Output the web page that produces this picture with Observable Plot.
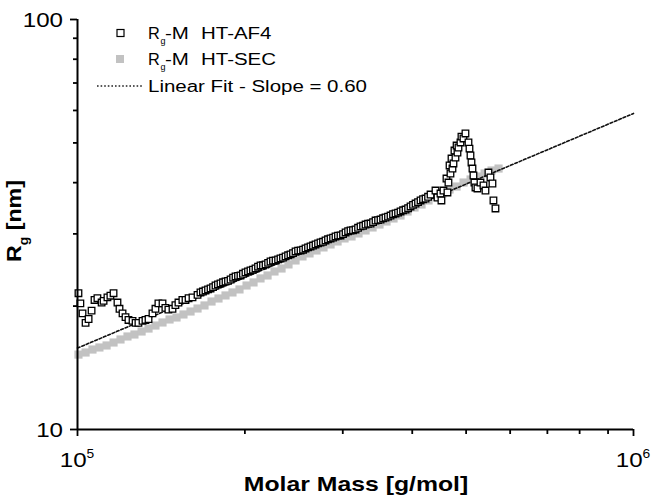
<!DOCTYPE html>
<html><head><meta charset="utf-8">
<script src="https://cdn.jsdelivr.net/npm/d3@7"></script>
<script src="https://cdn.jsdelivr.net/npm/@observablehq/plot@0.6"></script>
<style>
html,body{margin:0;padding:0;background:#fff;}
#chart svg{display:block;}
</style></head><body><div id="chart"></div>
<script>
// ---- data (M in g/mol, Rg in nm) ----
const af4M = [100400,101200,102100,103400,104700,106000,107300,108600,110500,111400,113200,114600,116100,118000,119000,120500,122000,123500,125600,127200,128700,130900,132500,134200,136400,138100,139800,142200,143900,145700,148200,150000,151900,154400,156400,158400,161000,164400,
166400,169900,173500,177100,180800,184600,188500,192400,196400,200500,204700,209000,213400,217900,222400,227100,231800,236700,241600,246700,251900,257100,262500,268000,273600,279300,285200,291100,297200,303500,309800,316300,322900,329700,336600,343600,350800,358100,365600,373300,381100,389100,397200,405500,414000,422700,431500,
440400,444100,449600,451400,455200,460900,462800,464700,466800,468600,470600,472500,474500,476400,478400,480600,482400,484400,488400,490400,494500,498600,504900,507000,509100,511200,513300,515400,517500,519700,524000,530600,537200,541700,548400,553000,557600,559900,564600];
const af4Rg = [21.5,20.3,19.2,18.2,18.6,19.5,20.7,20.9,20.4,20.6,21.0,21.2,21.5,20.4,19.7,19.2,18.8,18.5,18.4,18.2,18.2,18.4,18.5,18.6,19.2,19.7,20.3,20.3,19.8,19.6,19.7,20.1,20.4,20.7,20.7,20.9,21.0,21.3,
21.59,21.83,22.08,22.45,22.71,22.96,23.22,23.62,23.75,24.16,24.43,24.70,25.12,25.27,25.69,25.84,26.13,26.43,26.73,27.18,27.33,27.64,27.95,28.27,28.59,28.91,29.24,29.57,29.73,30.24,30.58,30.75,31.28,31.62,31.80,32.34,32.52,32.89,33.26,33.64,34.02,34.40,34.99,35.58,36.19,36.59,37.42,
38.27,36.80,37.63,36.19,38.27,40.94,37.85,40.03,44.05,42.11,45.81,43.30,44.55,47.91,46.07,49.28,47.35,48.73,50.12,51.82,51.26,52.72,50.12,48.43,46.59,44.80,43.30,41.64,40.03,38.93,38.71,40.03,39.37,38.27,42.34,41.18,39.81,36.19,34.60];
// further AF4 points read between the above along the dense straight stretch
const af4M2 = [168100,171700,175300,178900,182700,186500,190500,194400,198400,202600,206800,211200,215600,220200,224700,229500,234200,239200,244100,249300,254500,259800,265200,270800,276400,282200,288200,294100,300300,306700,313000,319600,326300,333100,340100,347200,354500,361800,369400,377200,385100,393200,401300,409700,418300,427100];
const af4Rg2 = [21.70,21.97,22.25,22.60,22.86,23.05,23.45,23.70,23.98,24.30,24.55,24.95,25.15,25.50,25.80,26.00,26.25,26.60,26.92,27.30,27.45,27.82,28.10,28.45,28.70,29.10,29.38,29.70,29.95,30.45,30.62,31.05,31.40,31.75,32.05,32.40,32.75,33.05,33.50,33.80,34.25,34.65,35.30,35.85,36.45,36.95];

const secM = [100400,103400,106400,109500,112800,116100,119500,123000,126600,130400,134200,138100,142200,146400,150700,155100,159700,164400,169200,174200,179300,184600,190000,195600,201400,207300,213400,219700,226100,232800,239600,246700,253900,261400,269100,277000,285200,293600,302200,311100,320200,329700,339400,349300,359600,370200,381100,392300,403800,415700,427900,440500,453500,466800,480600,494700,509300,524200,539700,555500,571900];
const secRg = [15.23,15.41,15.67,15.85,16.03,16.30,16.58,16.86,17.05,17.34,17.63,17.93,18.24,18.55,18.76,19.08,19.40,19.73,20.07,20.52,20.87,21.23,21.59,21.96,22.45,22.84,23.36,23.75,24.29,24.70,25.27,25.84,26.43,26.88,27.33,27.80,28.27,28.75,29.24,29.57,30.07,30.58,31.10,31.62,32.16,32.71,33.26,34.02,34.79,35.38,36.19,37.01,37.63,38.49,39.14,40.03,40.72,41.40,42.11,42.83,43.30];

const fitM = [100000, 1000000];
const fitRg = [15.8, 59.0];

const xMajor = [1e5, 1e6];
const xMinor = [2e5, 3e5, 4e5, 5e5, 6e5, 7e5, 8e5, 9e5];
const yMajor = [10, 100];
const yMinor = [20, 30, 40, 50, 60, 70, 80, 90];

const xTitle = "Molar Mass [g/mol]";
const yTitleMain = "R", yTitleSub = "g", yTitleRest = " [nm]";
const legendSeries = ["HT-AF4", "HT-SEC"];
const legendFit = "Linear Fit - Slope = 0.60";

// ---- tables ----
const af4 = af4M.concat(af4M2).map((m, i) => ({M: m, Rg: af4Rg.concat(af4Rg2)[i]}))
  .sort((a, b) => a.M - b.M);
const sec = secM.map((m, i) => ({M: m, Rg: secRg[i]}));
const fit = fitM.map((m, i) => ({M: m, Rg: fitRg[i]}));

const FONT = "'Liberation Sans', Arial, Helvetica, sans-serif";
const GRAY = "#c2c2c2";

const plot = Plot.plot({
  width: 652, height: 498,
  marginLeft: 77, marginRight: 19, marginTop: 19, marginBottom: 69,
  style: {fontFamily: FONT, background: "#fff", color: "#000", overflow: "visible"},
  x: {type: "log", domain: [1e5, 1e6]},
  y: {type: "log", domain: [10, 100]},
  marks: [
    Plot.dot(sec, {x: "M", y: "Rg", symbol: "square", r: 4.6, fill: GRAY, stroke: "none"}),
    Plot.line(fit, {x: "M", y: "Rg", stroke: "#111", strokeWidth: 1.6, strokeDasharray: "2.7,2"}),
    Plot.dot(af4, {x: "M", y: "Rg", symbol: "square", r: 3.7, fill: "#fff", stroke: "#000", strokeWidth: 1.3}),
    Plot.axisX({ticks: xMinor, tickSize: 5, tickFormat: () => "", label: null, strokeWidth: 1.8}),
    Plot.axisX({ticks: xMajor, tickSize: 7, tickFormat: () => "", label: null, strokeWidth: 1.8}),
    Plot.axisY({ticks: yMinor, tickSize: 4, tickFormat: () => "", label: null, strokeWidth: 1.8}),
    Plot.axisY({ticks: yMajor, tickSize: 7, tickFormat: () => "", label: null, strokeWidth: 1.8}),
    Plot.ruleY([10], {stroke: "#000", strokeWidth: 2}),
    Plot.ruleX([1e5], {stroke: "#000", strokeWidth: 2})
  ]
});

document.getElementById("chart").appendChild(plot);
const svg = d3.select(plot);
const xs = plot.scale("x"), ys = plot.scale("y");

function addText(x, y, {size = 16, weight = "normal", anchor = "start", rotate = 0, sx = 1.28} = {}) {
  return svg.append("text")
    .attr("transform", `translate(${x},${y})${rotate ? ` rotate(${rotate})` : ""} scale(${sx},1)`)
    .attr("font-family", FONT).attr("font-size", size).attr("font-weight", weight)
    .attr("text-anchor", anchor).attr("fill", "#000");
}

// tick labels (positions from the plot's scales)
const x0 = xs.apply(1e5), y0 = ys.apply(10);
yMajor.forEach(v => addText(x0 - 14, ys.apply(v) + 7.5, {size: 21, anchor: "end", sx: 1.15}).text(String(v)));
xMajor.forEach(v => {
  const t = addText(xs.apply(v), y0 + 38, {size: 21, anchor: "middle", sx: 1.15});
  t.append("tspan").text("10");
  t.append("tspan").attr("font-size", 12).attr("dy", -9).text(String(Math.round(Math.log10(v))));
});

// axis titles
addText(356, 491, {size: 20, weight: "bold", anchor: "middle", sx: 1.24}).text(xTitle);
{
  const t = addText(21, 221, {size: 20, weight: "bold", anchor: "middle", rotate: -90, sx: 1.16});
  t.append("tspan").text(yTitleMain);
  t.append("tspan").attr("font-size", 12).attr("dy", 7).text(yTitleSub);
  t.append("tspan").attr("dy", -7).text(yTitleRest);
}

// legend
const LSX = 1.28;
const lg = svg.append("g");
lg.append("rect").attr("x", 117).attr("y", 29.5).attr("width", 7).attr("height", 7)
  .attr("fill", "#fff").attr("stroke", "#000").attr("stroke-width", 1.2);
lg.append("rect").attr("x", 116).attr("y", 55).attr("width", 8).attr("height", 8).attr("fill", GRAY);
lg.append("line").attr("x1", 97).attr("x2", 143).attr("y1", 86).attr("y2", 86)
  .attr("stroke", "#222").attr("stroke-width", 1.3).attr("stroke-dasharray", "1.6,2");
[39, 65].forEach((by, i) => {
  addText(148, by, {size: 16, sx: 1.02}).text("R");
  addText(160.5, by + 5, {size: 9, sx: 1}).text("g");
  addText(165, by, {size: 16, sx: LSX}).text("-M");
  addText(201, by, {size: 16, sx: LSX}).text(legendSeries[i]);
});
addText(148, 92, {size: 16, sx: LSX}).text(legendFit);
</script></body></html>
